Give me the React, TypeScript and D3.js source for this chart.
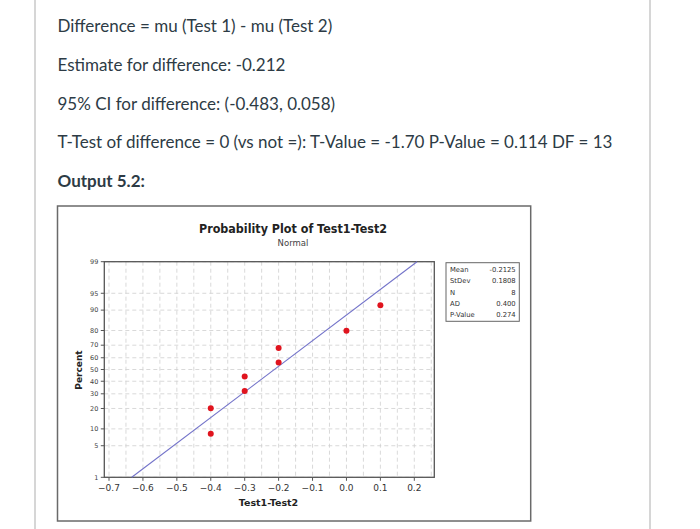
import React from "react";
import * as d3 from "d3";

const headerLines = [
  "Difference = mu (Test 1) - mu (Test 2)",
  "Estimate for difference: -0.212",
  "95% CI for difference: (-0.483, 0.058)",
  "T-Test of difference = 0 (vs not =): T-Value = -1.70 P-Value = 0.114 DF = 13",
];
const outputLabel = "Output 5.2:";

const xTicks = [-0.7, -0.6, -0.5, -0.4, -0.3, -0.2, -0.1, 0.0, 0.1, 0.2];
const xGrid = [-0.7, -0.65, -0.6, -0.55, -0.5, -0.45, -0.4, -0.35, -0.3, -0.25, -0.2, -0.15, -0.1, -0.05, 0.0, 0.05, 0.1, 0.15, 0.2, 0.25];
const yTicks = [1, 5, 10, 20, 30, 40, 50, 60, 70, 80, 90, 95, 99];

const pointX = [-0.4, -0.4, -0.3, -0.3, -0.2, -0.2, 0.0, 0.1];
const pointPct = [8.3, 20.2, 32.1, 44.0, 56.0, 67.9, 79.8, 91.7];

const fitX = [-0.633, 0.208];
const fitPct = [1, 99];

const statLabels = ["Mean", "StDev", "N", "AD", "P-Value"];
const statValues = ["-0.2125", "0.1808", "8", "0.400", "0.274"];

// inverse normal CDF (Acklam)
function probit(p: number): number {
  const a = [-39.69683028665376, 220.9460984245205, -275.9285104469687, 138.357751867269, -30.66479806614716, 2.506628277459239];
  const b = [-54.47609879822406, 161.5858368580409, -155.6989798598866, 66.80131188771972, -13.28068155288572];
  const c = [-0.007784894002430293, -0.3223964580411365, -2.400758277161838, -2.549732539343734, 4.374664141464968, 2.938163982698783];
  const d = [0.007784695709041462, 0.3224671290700398, 2.445134137142996, 3.754408661907416];
  const pl = 0.02425;
  let q: number, r: number;
  if (p < pl) {
    q = Math.sqrt(-2 * Math.log(p));
    return (((((c[0] * q + c[1]) * q + c[2]) * q + c[3]) * q + c[4]) * q + c[5]) / ((((d[0] * q + d[1]) * q + d[2]) * q + d[3]) * q + 1);
  }
  if (p > 1 - pl) {
    q = Math.sqrt(-2 * Math.log(1 - p));
    return -(((((c[0] * q + c[1]) * q + c[2]) * q + c[3]) * q + c[4]) * q + c[5]) / ((((d[0] * q + d[1]) * q + d[2]) * q + d[3]) * q + 1);
  }
  q = p - 0.5;
  r = q * q;
  return ((((((a[0] * r + a[1]) * r + a[2]) * r + a[3]) * r + a[4]) * r + a[5]) * q) / (((((b[0] * r + b[1]) * r + b[2]) * r + b[3]) * r + b[4]) * r + 1);
}

export default function App() {
  const W = 700, H = 529;
  const left = 104.3, right = 434.3, top = 261.7, bottom = 477.3;

  const x = d3.scaleLinear().domain([-0.7, 0.2]).range([109, 414.3]);
  const zScale = d3.scaleLinear().domain([probit(0.01), probit(0.99)]).range([bottom, top]);
  const y = (pct: number) => zScale(probit(pct / 100));

  const fitLine = d3.line<number>()
    .x((_, i) => x(fitX[i]))
    .y((_, i) => y(fitPct[i]))(fitX.map((v) => v));

  const sans = "Tahoma, 'DejaVu Sans', Verdana, sans-serif";

  return (
    <svg width={W} height={H} style={{ position: "absolute", left: 0, top: 0, background: "#fff" }}>
      <rect x={0} y={0} width={W} height={H} fill="#fff" />
      {/* page borders */}
      <line x1={35} x2={35} y1={0} y2={H} stroke="#c8c8c8" strokeWidth={1.5} />
      <line x1={650} x2={650} y1={0} y2={H} stroke="#c8c8c8" strokeWidth={1.5} />

      {headerLines.map((t, i) => (
        <text key={i} x={57.5} y={32.3 + i * 38.7} fontFamily="Lato, sans-serif" fontSize={17} fill="#2d3b45">{t}</text>
      ))}
      <text x={57.5} y={186.7} fontFamily="Lato, sans-serif" fontSize={17} fontWeight="bold" fill="#2d3b45">{outputLabel}</text>

      {/* chart frame */}
      <rect x={57.5} y={206} width={473.2} height={315} fill="#fff" stroke="#6a6a6a" strokeWidth={1.5} />

      {/* title */}
      <text x={293} y={233} textAnchor="middle" fontFamily={sans} fontSize={11.5} fontWeight="bold" fill="#222" textLength={188} lengthAdjust="spacingAndGlyphs">Probability Plot of Test1-Test2</text>
      <text x={293} y={246} textAnchor="middle" fontFamily={sans} fontSize={8.5} fill="#444">Normal</text>

      {/* grid */}
      {xGrid.map((g, i) => (
        <line key={"gx" + i} x1={x(g)} x2={x(g)} y1={top} y2={bottom} stroke="#cfcfcf" strokeWidth={0.8} strokeDasharray="4,3" />
      ))}
      {yTicks.map((t, i) => (
        <line key={"gy" + i} x1={left} x2={right} y1={y(t)} y2={y(t)} stroke="#cfcfcf" strokeWidth={0.8} strokeDasharray="4,3" />
      ))}

      {/* plot border */}
      <rect x={left} y={top} width={right - left} height={bottom - top} fill="none" stroke="#555" strokeWidth={1.3} />

      {/* y ticks */}
      {yTicks.map((t, i) => (
        <g key={"yt" + i}>
          <line x1={left - 3.5} x2={left} y1={y(t)} y2={y(t)} stroke="#555" strokeWidth={1} />
          <text x={left - 6} y={y(t)} dy="0.35em" textAnchor="end" fontFamily={sans} fontSize={6.5} fill="#444">{t}</text>
        </g>
      ))}
      {/* x ticks */}
      {xTicks.map((t, i) => (
        <g key={"xt" + i}>
          <line x1={x(t)} x2={x(t)} y1={bottom} y2={bottom + 3.5} stroke="#555" strokeWidth={1} />
          <text x={x(t)} y={491.3} textAnchor="middle" fontFamily={sans} fontSize={9} fill="#333">{d3.format(".1f")(t)}</text>
        </g>
      ))}

      {/* axis labels */}
      <text x={268.5} y={505.7} textAnchor="middle" fontFamily={sans} fontSize={9.5} fontWeight="bold" fill="#222">Test1-Test2</text>
      <text transform="translate(81.5,370) rotate(-90)" textAnchor="middle" fontFamily={sans} fontSize={9} fontWeight="bold" fill="#222">Percent</text>

      {/* fit line */}
      <path d={fitLine || ""} fill="none" stroke="#7373c9" strokeWidth={1.1} />

      {/* points */}
      {pointX.map((v, i) => (
        <circle key={"p" + i} cx={x(v)} cy={y(pointPct[i])} r={3} fill="#e0141e" />
      ))}

      {/* stats box */}
      <rect x={446} y={262.7} width={73.3} height={58.6} fill="#fff" stroke="#666" strokeWidth={1} />
      {statLabels.map((l, i) => (
        <g key={"s" + i}>
          <text x={450} y={270 + i * 11.1} dy="0.35em" fontFamily={sans} fontSize={6.8} fill="#333">{l}</text>
          <text x={515.7} y={270 + i * 11.1} dy="0.35em" textAnchor="end" fontFamily={sans} fontSize={6.8} fill="#333">{statValues[i]}</text>
        </g>
      ))}
    </svg>
  );
}
